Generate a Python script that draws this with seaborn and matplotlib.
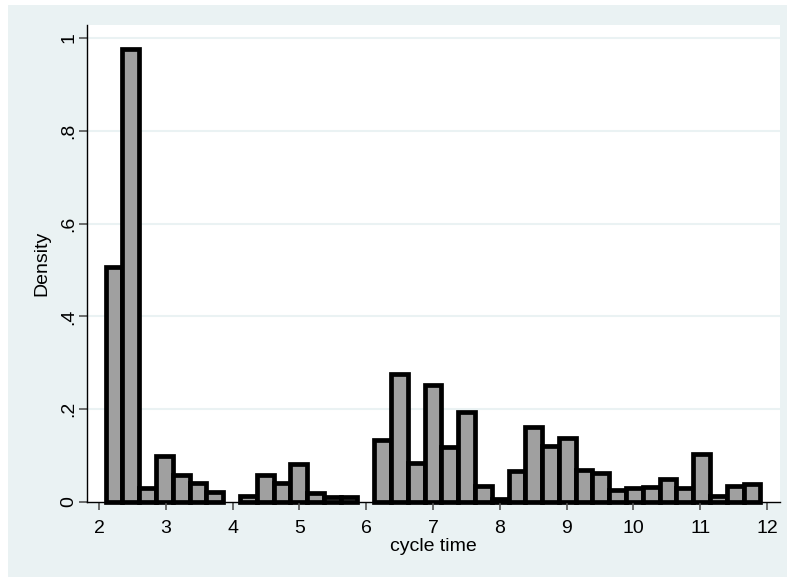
import numpy as np
import pandas as pd
import matplotlib
matplotlib.use('Agg')
import matplotlib.pyplot as plt
import seaborn as sns
from matplotlib.patches import Rectangle

# 直方图数据（从图中读取的密度值）
bin_start = 2.1
bin_end = 11.9
density = [0.507, 0.976, 0.030, 0.099, 0.058, 0.042, 0.022, 0.0,
           0.013, 0.058, 0.042, 0.081, 0.020, 0.011, 0.011, 0.0,
           0.134, 0.275, 0.084, 0.252, 0.119, 0.195, 0.034, 0.006,
           0.066, 0.162, 0.121, 0.139, 0.068, 0.062, 0.025, 0.030,
           0.032, 0.049, 0.031, 0.104, 0.014, 0.034, 0.039]
x_ticks = [2, 3, 4, 5, 6, 7, 8, 9, 10, 11, 12]
y_ticks = [0, 0.2, 0.4, 0.6, 0.8, 1.0]
y_tick_labels = ['0', '.2', '.4', '.6', '.8', '1']

edges = np.linspace(bin_start, bin_end, len(density) + 1)
df = pd.DataFrame({'cycle_time': (edges[:-1] + edges[1:]) / 2, 'density': density})

bg = '#EAF2F3'
plt.rcParams['font.family'] = ['Liberation Sans', 'DejaVu Sans']

fig = plt.figure(figsize=(7.87, 5.77), dpi=100)
fig.patch.set_facecolor('white')
# Stata风格的外部背景
fig.patches.append(Rectangle((8 / 787, 0), 1 - 8 / 787, 1 - 5 / 577,
                             transform=fig.transFigure, facecolor=bg,
                             edgecolor='none', zorder=-10))

ax = fig.add_axes([87 / 787, 75 / 577, 693 / 787, 477 / 577])
ax.set_facecolor('white')

sns.histplot(data=df, x='cycle_time', weights='density', bins=list(edges),
             stat='count', color='#A0A0A0', alpha=1,
             edgecolor='black', linewidth=3.4, ax=ax)

# 去掉高度为0的柱子
for p in ax.patches:
    p.set_clip_on(False)
    if p.get_height() == 0:
        p.set_visible(False)

ax.set_xlim(1.82, 12.195)
ax.set_ylim(0, 1.028)
ax.set_xticks(x_ticks)
ax.set_yticks(y_ticks)
ax.set_yticklabels(y_tick_labels, rotation=90, va='center')
ax.tick_params(axis='both', labelsize=14, length=6, width=1.2,
               color='#555555', direction='out')
ax.tick_params(axis='x', pad=7)
ax.tick_params(axis='y', pad=1)

for y in y_ticks[1:]:
    ax.axhline(y, color=bg, linewidth=1.5, zorder=0)

for side in ['top', 'right']:
    ax.spines[side].set_visible(False)
ax.spines['left'].set_color('black')
ax.spines['bottom'].set_color('black')
ax.spines['left'].set_linewidth(1.0)
ax.spines['bottom'].set_linewidth(1.0)

ax.set_xlabel('cycle time', fontsize=14, labelpad=1)
ax.set_ylabel('Density', fontsize=14, labelpad=7)

fig.savefig('out.png', dpi=100)
